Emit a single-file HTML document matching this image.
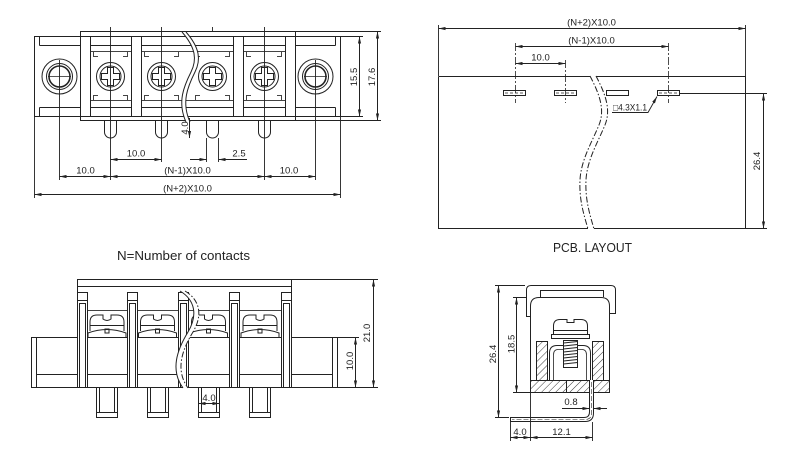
<!DOCTYPE html>
<html><head><meta charset="utf-8"><style>
html,body{margin:0;padding:0;background:#fff;}
svg{display:block;}
text{font-family:"Liberation Sans",sans-serif;fill:#222;stroke:none;}
</style></head><body>
<svg width="800" height="469" viewBox="0 0 800 469" xmlns="http://www.w3.org/2000/svg">
<defs>
<marker id="a" viewBox="0 0 8 4" refX="8" refY="2" markerWidth="7" markerHeight="3.5" markerUnits="userSpaceOnUse" orient="auto-start-reverse"><path d="M0,0.2 L8,2 L0,3.8Z" fill="#222"/></marker>
<pattern id="h" width="5" height="5" patternUnits="userSpaceOnUse" patternTransform="rotate(45)"><line x1="0" y1="0" x2="0" y2="5" stroke="#222" stroke-width="0.9"/></pattern>
</defs>
<rect width="800" height="469" fill="#fff"/>

<!-- ================= TOP LEFT VIEW ================= -->
<g fill="none" stroke="#222" stroke-width="1">
  <!-- body -->
  <rect x="34.5" y="36.5" width="306" height="80"/>
  <!-- cover -->
  <path d="M80.5,31.5 H295.5 V120.5 H80.5 Z"/>
  <!-- bands -->
  <path d="M39.5,45.5 H335.5 M39.5,107.5 H335.5 M39.5,36.5 V45.5 M39.5,107.5 V116.5 M335.5,36.5 V45.5 M335.5,107.5 V116.5"/>
  <path d="M80,51.5 H295 M80,100.5 H295" stroke="#444"/>
  <!-- cells corners -->
  <path d="M93.5,51.5 V56.5 H98 M127.5,51.5 V56.5 H123 M93.5,100.5 V95.5 H98 M127.5,100.5 V95.5 H123
           M144.5,51.5 V56.5 H149 M178.5,51.5 V56.5 H174 M144.5,100.5 V95.5 H149 M178.5,100.5 V95.5 H174
           M195.5,51.5 V56.5 H200 M229.5,51.5 V56.5 H225 M195.5,100.5 V95.5 H200 M229.5,100.5 V95.5 H225
           M246.5,51.5 V56.5 H251 M281.5,51.5 V56.5 H277 M246.5,100.5 V95.5 H251 M281.5,100.5 V95.5 H277" stroke="#444"/>
  <!-- screws -->
  <g>
    <circle cx="110.5" cy="76.5" r="14"/><circle cx="110.5" cy="76.5" r="10.5"/>
    <path d="M107.5,67.5 H113.5 V73.5 H119.5 V79.5 H113.5 V85.5 H107.5 V79.5 H101.5 V73.5 H107.5 Z"/>
    <circle cx="161.5" cy="76.5" r="14"/><circle cx="161.5" cy="76.5" r="10.5"/>
    <path d="M158.5,67.5 H164.5 V73.5 H170.5 V79.5 H164.5 V85.5 H158.5 V79.5 H152.5 V73.5 H158.5 Z"/>
    <circle cx="212.5" cy="76.5" r="14"/><circle cx="212.5" cy="76.5" r="10.5"/>
    <path d="M209.5,67.5 H215.5 V73.5 H221.5 V79.5 H215.5 V85.5 H209.5 V79.5 H203.5 V73.5 H209.5 Z"/>
    <circle cx="264.5" cy="76.5" r="14"/><circle cx="264.5" cy="76.5" r="10.5"/>
    <path d="M261.5,67.5 H267.5 V73.5 H273.5 V79.5 H267.5 V85.5 H261.5 V79.5 H255.5 V73.5 H261.5 Z"/>
  </g>
  <!-- walls -->
  <g fill="#fff">
    <rect x="80.5" y="36.5" width="10" height="80"/>
    <rect x="131.5" y="36.5" width="10" height="80"/>
    <rect x="233.5" y="36.5" width="10" height="80"/>
    <rect x="285.5" y="36.5" width="10" height="80"/>
  </g>
  <!-- mounting holes -->
  <circle cx="59.5" cy="76.5" r="17.5"/><circle cx="59.5" cy="76.5" r="13"/><circle cx="59.5" cy="76.5" r="10.5" stroke-width="1.6"/>
  <circle cx="315.5" cy="76.5" r="17.5"/><circle cx="315.5" cy="76.5" r="13"/><circle cx="315.5" cy="76.5" r="10.5" stroke-width="1.6"/>
  <path d="M48,76.5 H71 M304,76.5 H327" stroke-width="0.8"/>
  <!-- pins -->
  <path d="M104.5,120.5 V132 A6,6 0 0 0 116.5,132 V120.5"/>
  <path d="M155.5,120.5 V132 A6,6 0 0 0 167.5,132 V120.5"/>
  <path d="M206.5,120.5 V132 A6,6 0 0 0 218.5,132 V120.5"/>
  <path d="M258.5,120.5 V132 A6,6 0 0 0 270.5,132 V120.5"/>
  <!-- break -->
  <path d="M182,32 C196,48 197,60 191,72 C184,86 177,102 186,122 L190,122 C181,102 188,86 195,72 C201,60 200,48 186,32 Z" fill="#fff" stroke="none"/>
  <path d="M182,32 C196,48 197,60 191,72 C184,86 177,102 186,122"/>
  <path d="M186,32 C200,48 201,60 195,72 C188,86 181,102 190,122"/>
  <!-- center / extension lines -->
  <path d="M59.5,60 V180 M110.5,27 V180 M161.5,27 V162 M264.5,27 V180 M315.5,60 V180 M212.5,27 V32 M34.5,117 V198 M340.5,117 V198 M206.5,138 V162 M218.5,138 V162" stroke-width="0.9"/>
  <path d="M295.5,31.5 H381 M295.5,120.5 H381 M340.5,36.5 H363 M340.5,116.5 H363" stroke-width="0.9"/>
  <!-- dims -->
  <path d="M110.5,159.5 H161.5" marker-start="url(#a)" marker-end="url(#a)"/>
  <path d="M190,159.5 H206.5" marker-end="url(#a)"/>
  <path d="M247,159.5 H218.5" marker-end="url(#a)"/>
  <path d="M59.5,176.5 H110.5" marker-start="url(#a)" marker-end="url(#a)"/>
  <path d="M110.5,176.5 H264.5" marker-start="url(#a)" marker-end="url(#a)"/>
  <path d="M264.5,176.5 H315.5" marker-start="url(#a)" marker-end="url(#a)"/>
  <path d="M34.5,194.5 H340.5" marker-start="url(#a)" marker-end="url(#a)"/>
  <path d="M359.5,36.5 V116.5" marker-start="url(#a)" marker-end="url(#a)"/>
  <path d="M377.5,31.5 V120.5" marker-start="url(#a)" marker-end="url(#a)"/>
  <path d="M189.5,118 V138" marker-end="url(#a)"/>
</g>
<g font-size="9.5" text-anchor="middle">
  <text x="136" y="156.5">10.0</text>
  <text x="239" y="156.5">2.5</text>
  <text x="85.5" y="173.5">10.0</text>
  <text x="187.5" y="173.5">(N-1)X10.0</text>
  <text x="289" y="173.5">10.0</text>
  <text x="187.5" y="191.5">(N+2)X10.0</text>
  <text transform="translate(357,77) rotate(-90)">15.5</text>
  <text transform="translate(375,77) rotate(-90)">17.6</text>
  <text transform="translate(188,128) rotate(-90)">4.0</text>
</g>

<!-- ================= TOP RIGHT PCB LAYOUT ================= -->
<g fill="none" stroke="#222" stroke-width="1">
  <path d="M438.5,76.5 H590 M596,76.5 H745.5 V228.5 H594 M588,228.5 H438.5 V76.5"/>
  <path d="M590,76 C600,95 605,110 599,125 C592,142 581,160 580,180 C579,200 584,215 588,229" stroke-dasharray="6,2,1.5,2"/>
  <path d="M596,76 C606,95 611,110 605,125 C598,142 587,160 586,180 C585,200 590,215 594,229" stroke-dasharray="6,2,1.5,2"/>
  <rect x="503.5" y="90.5" width="22" height="5"/>
  <rect x="554.5" y="90.5" width="22" height="5"/>
  <rect x="606.5" y="90.5" width="22" height="5"/>
  <rect x="657.5" y="90.5" width="22" height="5"/>
  <path d="M505,93 H524 M556,93 H575 M659,93 H678" stroke-width="0.7" stroke-dasharray="3,2"/>
  <path d="M515.5,43 V103 M565.5,60 V103 M668.5,43 V103" stroke-width="0.8" stroke-dasharray="8,2,2,2"/>
  <path d="M438.5,25 V76 M745.5,25 V76 M680,93.5 H767 M745.5,228.5 H767" stroke-width="0.9"/>
  <path d="M438.5,28.5 H745.5" marker-start="url(#a)" marker-end="url(#a)"/>
  <path d="M515.5,46.5 H668.5" marker-start="url(#a)" marker-end="url(#a)"/>
  <path d="M515.5,63.5 H565.5" marker-start="url(#a)" marker-end="url(#a)"/>
  <path d="M763.5,93.5 V228.5" marker-start="url(#a)" marker-end="url(#a)"/>
  <path d="M612,112.5 H648 L657,96.5" marker-end="url(#a)" stroke-width="0.9"/>
</g>
<g font-size="9.5" text-anchor="middle">
  <text x="591.5" y="25.5">(N+2)X10.0</text>
  <text x="591.5" y="43.5">(N-1)X10.0</text>
  <text x="540.5" y="60.5">10.0</text>
  <text transform="translate(760,161) rotate(-90)">26.4</text>
</g>
<text x="613" y="110.5" font-size="9" textLength="34" lengthAdjust="spacingAndGlyphs">□4.3X1.1</text>
<text x="553" y="252" font-size="13" textLength="79" lengthAdjust="spacingAndGlyphs">PCB. LAYOUT</text>

<!-- ================= BOTTOM LEFT VIEW ================= -->
<text x="117" y="260" font-size="13" textLength="133" lengthAdjust="spacingAndGlyphs">N=Number of contacts</text>
<g fill="none" stroke="#222" stroke-width="1">
  <!-- base -->
  <rect x="31.5" y="337.5" width="306" height="50"/>
  <path d="M36.5,337.5 V387.5 M332.5,337.5 V387.5 M36.5,374.5 H332.5"/>
  <!-- cover -->
  <path d="M77.5,292.5 V279.5 H291.5 V292.5 M77.5,286.5 H291.5"/>
  <path d="M77.5,310.5 H291.5" stroke="#444"/>
  <!-- screws -->
  <g>
    <path d="M88,337.5 V333 Q107,326 126,333 V337.5"/>
    <path d="M90,331 V322 Q90,315 97,315 H103 V319 Q107,322 111,319 V315 H117 Q124,315 124,322 V331 M90,325.5 H124 M105,329 H109 V333 H105 Z"/>
    <path d="M138.5,337.5 V333 Q157.5,326 176.5,333 V337.5"/>
    <path d="M140.5,331 V322 Q140.5,315 147.5,315 H153.5 V319 Q157.5,322 161.5,319 V315 H167.5 Q174.5,315 174.5,322 V331 M140.5,325.5 H174.5 M155.5,329 H159.5 V333 H155.5 Z"/>
    <path d="M189.5,337.5 V333 Q208.5,326 227.5,333 V337.5"/>
    <path d="M191.5,331 V322 Q191.5,315 198.5,315 H204.5 V319 Q208.5,322 212.5,319 V315 H218.5 Q225.5,315 225.5,322 V331 M191.5,325.5 H225.5 M206.5,329 H210.5 V333 H206.5 Z"/>
    <path d="M241,337.5 V333 Q260,326 279,333 V337.5"/>
    <path d="M243,331 V322 Q243,315 250,315 H256 V319 Q260,322 264,319 V315 H270 Q277,315 277,322 V331 M243,325.5 H277 M258,329 H262 V333 H258 Z"/>
  </g>
  <!-- posts -->
  <g>
    <rect x="77.5" y="292.5" width="10" height="95" fill="#fff"/><path d="M77.5,300.5 H87.5 M79.5,387.5 V303.5 H85.5 V387.5"/>
    <rect x="127.5" y="292.5" width="10" height="95" fill="#fff"/><path d="M127.5,300.5 H137.5 M129.5,387.5 V303.5 H135.5 V387.5"/>
    <rect x="178.5" y="292.5" width="10" height="95" fill="#fff"/><path d="M178.5,300.5 H188.5 M180.5,387.5 V303.5 H186.5 V387.5"/>
    <rect x="229.5" y="292.5" width="10" height="95" fill="#fff"/><path d="M229.5,300.5 H239.5 M231.5,387.5 V303.5 H237.5 V387.5"/>
    <rect x="281.5" y="292.5" width="10" height="95" fill="#fff"/><path d="M281.5,300.5 H291.5 M283.5,387.5 V303.5 H289.5 V387.5"/>
  </g>
  <!-- pins -->
  <g>
    <rect x="96.5" y="387.5" width="21" height="30"/><path d="M99.5,387.5 V412.5 M114.5,387.5 V412.5 M96.5,412.5 H117.5"/>
    <rect x="147.5" y="387.5" width="21" height="30"/><path d="M150.5,387.5 V412.5 M165.5,387.5 V412.5 M147.5,412.5 H168.5"/>
    <rect x="198.5" y="387.5" width="21" height="30"/><path d="M201.5,387.5 V412.5 M216.5,387.5 V412.5 M198.5,412.5 H219.5"/>
    <rect x="249.5" y="387.5" width="21" height="30"/><path d="M252.5,387.5 V412.5 M267.5,387.5 V412.5 M249.5,412.5 H270.5"/>
  </g>
  <!-- break -->
  <path d="M180,291 C195,300 198,315 188,332 C177,350 170,370 183,388 L188,388 C175,370 182,350 193,332 C203,315 200,300 185,291 Z" fill="#fff" stroke="none"/>
  <path d="M180,291 C195,300 198,315 188,332 C177,350 170,370 183,388"/>
  <path d="M185,291 C200,300 203,315 193,332 C182,350 175,370 188,388" stroke-dasharray="6,2,1.5,2"/>
  <!-- dims -->
  <path d="M292,279.5 H378 M338,337.5 H359 M338,387.5 H378" stroke-width="0.9"/>
  <path d="M373.5,279.5 V387.5" marker-start="url(#a)" marker-end="url(#a)"/>
  <path d="M355.5,337.5 V387.5" marker-start="url(#a)" marker-end="url(#a)"/>
  <path d="M198.5,403.5 H219.5" marker-start="url(#a)" marker-end="url(#a)"/>
</g>
<g font-size="9.5" text-anchor="middle">
  <text transform="translate(370,333) rotate(-90)">21.0</text>
  <text transform="translate(353,361) rotate(-90)">10.0</text>
  <text x="209" y="401">4.0</text>
</g>

<!-- ================= BOTTOM RIGHT VIEW ================= -->
<g fill="none" stroke="#222" stroke-width="1">
  <!-- cover -->
  <path d="M531,316.5 H526.5 V290 Q526.5,285.5 531,285.5 H611 Q615.5,285.5 615.5,290 V313.5 H610"/>
  <path d="M540.5,297 V290.5 H603.5 V297"/>
  <!-- body -->
  <path d="M530.5,392.5 V306 Q530.5,297.5 539,297.5 H601 Q609.5,297.5 609.5,306 V392.5"/>
  <!-- hatched base & walls -->
  <rect x="530.5" y="380.5" width="79" height="12" fill="url(#h)"/>
  <rect x="536.5" y="341.5" width="11" height="39" fill="url(#h)"/>
  <rect x="592.5" y="341.5" width="11" height="39" fill="url(#h)"/>
  <path d="M566.5,380.5 V392.5"/>
  <!-- clamp -->
  <path d="M549.5,380 V353 Q549.5,345.5 557,345.5 H583 Q590.5,345.5 590.5,353 V380"/>
  <path d="M553.5,380 V355 Q553.5,349.5 558,349.5 H582 Q586.5,349.5 586.5,355 V380" stroke-width="0.8"/>
  <!-- screw -->
  <path d="M553.5,334.5 V326 Q553.5,319.5 560,319.5 H567 V322.5 H574 V319.5 H581 Q587.5,319.5 587.5,326 V334.5 Z M553.5,330.5 H587.5"/>
  <path d="M551.5,334.5 H589.5 V338.5 H551.5 Z"/>
  <rect x="563.5" y="340.5" width="14" height="27" fill="#fff"/>
  <path d="M563.5,343 L577.5,341.5 M563.5,346 L577.5,344.5 M563.5,349 L577.5,347.5 M563.5,352 L577.5,350.5 M563.5,355 L577.5,353.5 M563.5,358 L577.5,356.5 M563.5,361 L577.5,359.5 M563.5,364 L577.5,362.5" stroke-width="0.9"/>
  <!-- pin -->
  <path d="M589.5,380 V412 Q589.5,417.5 584,417.5 H510.5 V421.5 H585 Q593.5,421.5 593.5,413 V380" fill="#fff"/>
  <path d="M591.5,382 V413 Q591.5,419.5 585,419.5 H512" stroke-width="0.6" stroke-dasharray="5,2"/>
  <!-- dims -->
  <path d="M495,285.5 H525 M495,417.5 H509 M513,297.5 H526 M513,392.5 H530 M510.5,422 V441 M530.5,393 V441 M592.5,422 V441" stroke-width="0.9"/>
  <path d="M498.5,285.5 V417.5" marker-start="url(#a)" marker-end="url(#a)"/>
  <path d="M516.5,297.5 V392.5" marker-start="url(#a)" marker-end="url(#a)"/>
  <path d="M562,408.5 H589.5" marker-end="url(#a)"/>
  <path d="M607,408.5 H593.5" marker-end="url(#a)"/>
  <path d="M510.5,437.5 H530.5" marker-start="url(#a)" marker-end="url(#a)"/>
  <path d="M530.5,437.5 H592.5" marker-start="url(#a)" marker-end="url(#a)"/>
</g>
<g font-size="9.5" text-anchor="middle">
  <text transform="translate(496,354) rotate(-90)">26.4</text>
  <text transform="translate(514.5,344) rotate(-90)">18.5</text>
  <text x="571" y="405">0.8</text>
  <text x="520" y="435">4.0</text>
  <text x="561.5" y="435">12.1</text>
</g>
</svg>
</body></html>
